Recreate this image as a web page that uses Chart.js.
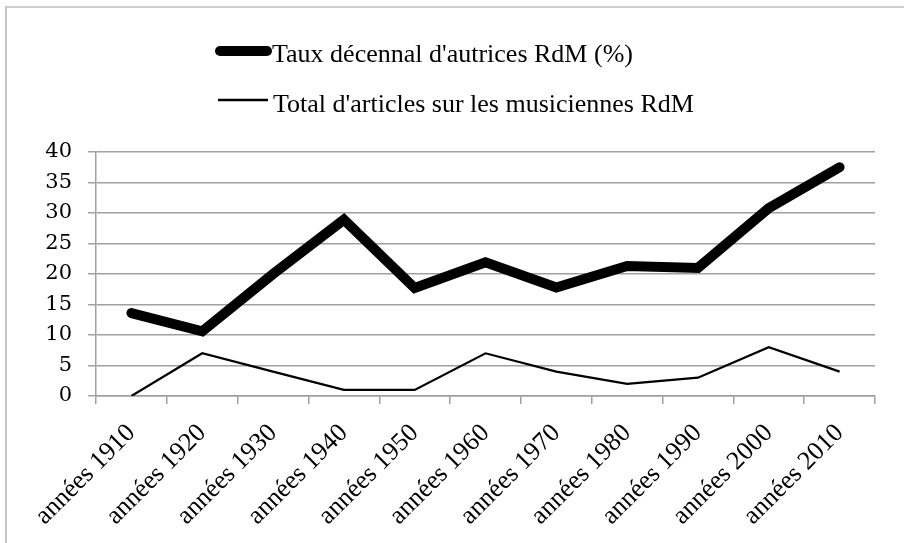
<!DOCTYPE html>
<html>
<head>
<meta charset="utf-8">
<script src="https://cdn.jsdelivr.net/npm/chart.js@4/dist/chart.umd.min.js"></script>
<style>
  html, body { margin: 0; padding: 0; background: #fff; }
  #wrap { position: relative; width: 904px; height: 543px; overflow: hidden; }
  #frame { position: absolute; left: 5px; top: 6px; width: 920px; height: 560px; border-left: 2px solid #c4c4c4; border-top: 2px solid #cfcfcf; box-sizing: border-box; }
  canvas { position: absolute; left: 0; top: 0; }
</style>
</head>
<body>
<div id="wrap">
  <div id="frame"></div>
  <canvas id="c" width="904" height="543"></canvas>
</div>
<script>
const categories = ["années 1910","années 1920","années 1930","années 1940","années 1950","années 1960","années 1970","années 1980","années 1990","années 2000","années 2010"];
const tauxAutrices = [13.6, 10.6, 20, 28.9, 17.7, 21.9, 17.8, 21.3, 21.0, 30.8, 37.5];
const totalArticles = [0, 7, 4, 1, 1, 7, 4, 2, 3, 8, 4];
const seriesLabels = ["Taux décennal d'autrices RdM (%)", "Total d'articles sur les musiciennes RdM"];
const yTicks = [0, 5, 10, 15, 20, 25, 30, 35, 40];

const SERIF = "'Liberation Serif', 'DejaVu Serif', serif";
const DIGITS = "'DejaVu Serif', 'Liberation Serif', serif";

const vLegend = {
  id: 'vLegend',
  afterDraw(chart) {
    const ctx = chart.ctx;
    const ds = chart.data.datasets;
    const rows = [
      {y: 51, x1: 220, x2: 267, w: 10, cap: 'round', ty: 62, tx: 272},
      {y: 100, x1: 218, x2: 268, w: 2.5, cap: 'butt', ty: 112, tx: 273}
    ];
    ctx.save();
    ds.forEach((d, i) => {
      const r = rows[i];
      ctx.beginPath();
      ctx.strokeStyle = d.borderColor;
      ctx.lineWidth = r.w;
      ctx.lineCap = r.cap;
      ctx.moveTo(r.x1, r.y);
      ctx.lineTo(r.x2, r.y);
      ctx.stroke();
      ctx.fillStyle = '#000';
      ctx.font = "26px " + SERIF;
      ctx.textBaseline = 'alphabetic';
      ctx.textAlign = 'left';
      ctx.fillText(d.label, r.tx, r.ty);
    });
    ctx.restore();
  }
};

new Chart(document.getElementById('c'), {
  type: 'line',
  data: {
    labels: categories,
    datasets: [
      { label: seriesLabels[0], data: tauxAutrices, borderColor: '#000', borderWidth: 10, pointRadius: 0, tension: 0, borderCapStyle: 'round', borderJoinStyle: 'miter' },
      { label: seriesLabels[1], data: totalArticles, borderColor: '#000', borderWidth: 2.2, pointRadius: 0, tension: 0, borderJoinStyle: 'miter' }
    ]
  },
  options: {
    responsive: false,
    animation: false,
    devicePixelRatio: 1,
    layout: { padding: { left: 0, right: 29, top: 152, bottom: 0 } },
    plugins: { legend: { display: false }, tooltip: { enabled: false } },
    scales: {
      x: {
        offset: true,
        grid: { offset: true, drawOnChartArea: false, drawTicks: true, tickLength: 8, color: '#a0a0a0', lineWidth: 1.5 },
        border: { display: true, color: '#a0a0a0', width: 1.5 },
        ticks: { minRotation: 45, maxRotation: 45, autoSkip: false, padding: 14, color: '#000', font: { family: SERIF, size: 26 } },
        afterFit(scale) { scale.height = 147; }
      },
      y: {
        min: 0, max: 40,
        afterBuildTicks(scale) { scale.ticks = yTicks.map(v => ({ value: v })); },
        grid: { drawTicks: true, tickLength: 8, color: '#a0a0a0', lineWidth: 1.5 },
        border: { display: true, color: '#a0a0a0', width: 1.5 },
        ticks: { padding: 16, color: '#000', font: { family: DIGITS, size: 21 } },
        afterFit(scale) { scale.width = 96; }
      }
    }
  },
  plugins: [vLegend]
});
</script>
</body>
</html>
